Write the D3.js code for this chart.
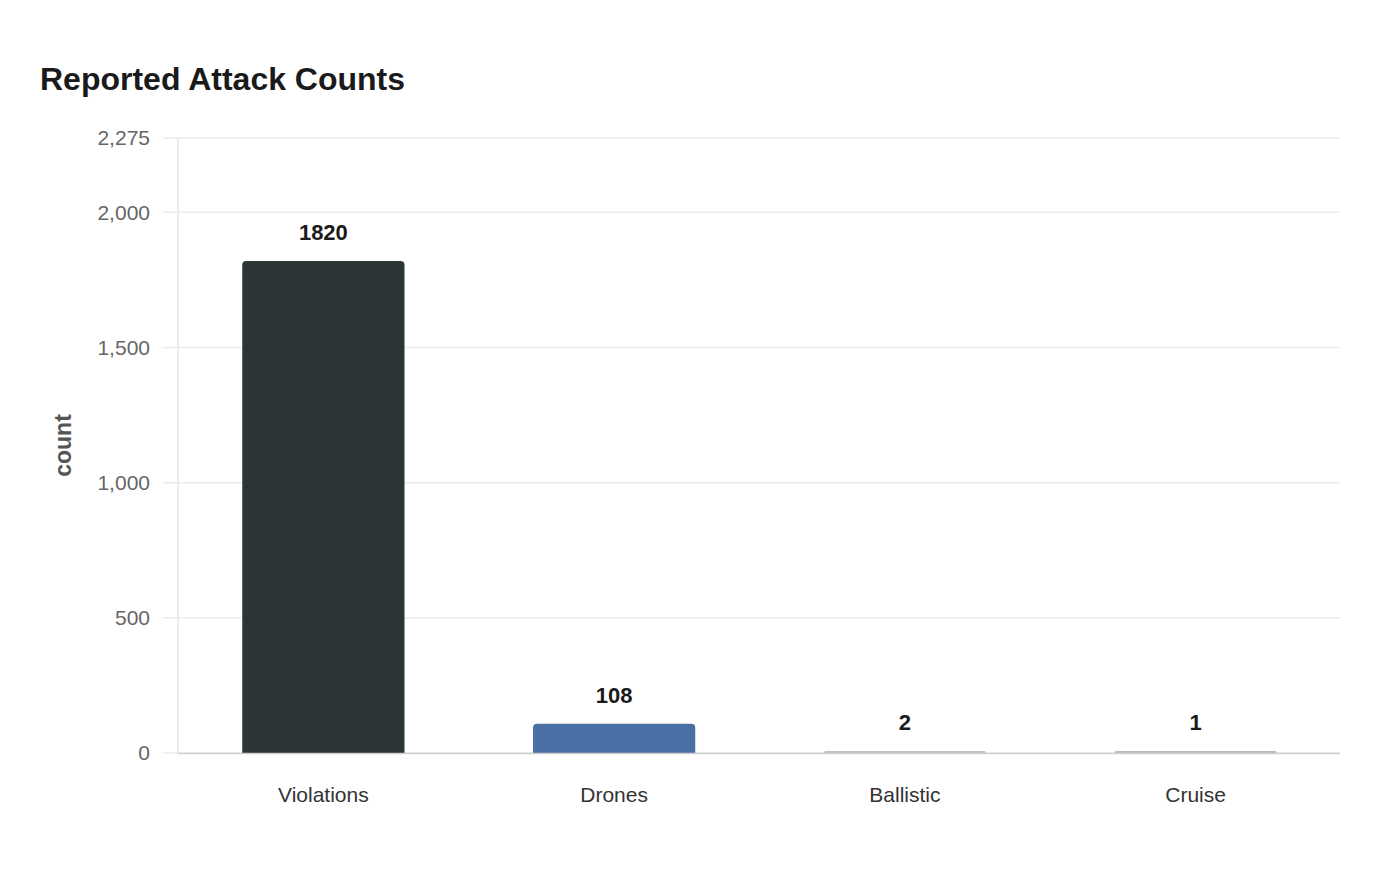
<!DOCTYPE html>
<html><head><meta charset="utf-8">
<script src="https://cdn.jsdelivr.net/npm/d3@7"></script>
<style>body{margin:0;background:#fff;font-family:"Liberation Sans",Arial,sans-serif;}</style>
</head><body><svg id="c" width="1400" height="880"></svg>
<script>
const categories = ["Violations","Drones","Ballistic","Cruise"];
const counts = [1820,108,2,1];
const barColors = ["#2d3436","#4a6fa5","#b8c4c1","#b0bcb9"];
const yTicks = [0,500,1000,1500,2000,2275];

const svg = d3.select("#c");
const m = {l:178, r:1341, t:138, b:753};
const x = d3.scaleBand().domain(categories).range([m.l,m.r]).paddingInner(0.442).paddingOuter(0.221);
const y = d3.scaleLinear().domain([0,2275]).range([m.b,m.t]);

svg.append("text").attr("x",40).attr("y",90).attr("font-size",32).attr("font-weight","bold").attr("fill","#1a1a1a").text("Reported Attack Counts");

// grid
svg.append("g").selectAll("line").data(yTicks).join("line")
  .attr("x1",163).attr("x2",m.r-1).attr("y1",d=>y(d)).attr("y2",d=>y(d))
  .attr("stroke","#ebebeb").attr("stroke-width",1.5);
// y axis line
svg.append("line").attr("x1",m.l).attr("x2",m.l).attr("y1",m.t).attr("y2",m.b).attr("stroke","#e6e6e6").attr("stroke-width",1.5);

svg.append("g").selectAll("text").data(yTicks).join("text")
  .attr("x",150).attr("y",d=>y(d)).attr("dy","0.35em").attr("text-anchor","end")
  .attr("font-size",21).attr("fill","#666").text(d=>d3.format(",")(d));

svg.append("text").attr("transform",`translate(71,${(m.t+m.b)/2}) rotate(-90)`)
  .attr("text-anchor","middle").attr("font-size",23).attr("font-weight","bold").attr("fill","#555").text("count");

// bars with rounded top
const r = 4;
function barPath(x0,w,yTop,yBot){
  const h = yBot-yTop;
  const rr = Math.min(r,h,w/2);
  return `M${x0},${yBot}V${yTop+rr}Q${x0},${yTop} ${x0+rr},${yTop}H${x0+w-rr}Q${x0+w},${yTop} ${x0+w},${yTop+rr}V${yBot}Z`;
}
const data = categories.map((c,i)=>({c,v:counts[i],col:barColors[i]}));
const topOf = d => Math.min(y(d.v), y(0)-2);
svg.append("g").selectAll("path").data(data).join("path")
  .attr("d",d=>barPath(x(d.c),x.bandwidth(),topOf(d),y(0)))
  .attr("fill",d=>d.col);

// x axis baseline
svg.append("line").attr("x1",m.l).attr("x2",m.r-1).attr("y1",y(0)+0.5).attr("y2",y(0)+0.5).attr("stroke","#cfcfcf").attr("stroke-width",1.5);

svg.append("g").selectAll("text").data(data).join("text")
  .attr("x",d=>x(d.c)+x.bandwidth()/2).attr("y",d=>topOf(d)-21)
  .attr("text-anchor","middle").attr("font-size",22).attr("font-weight","bold").attr("fill","#1a1a1a").text(d=>d.v);

svg.append("g").selectAll("text").data(categories).join("text")
  .attr("x",d=>x(d)+x.bandwidth()/2).attr("y",802).attr("text-anchor","middle")
  .attr("font-size",21).attr("fill","#333").text(d=>d);
</script></body></html>
